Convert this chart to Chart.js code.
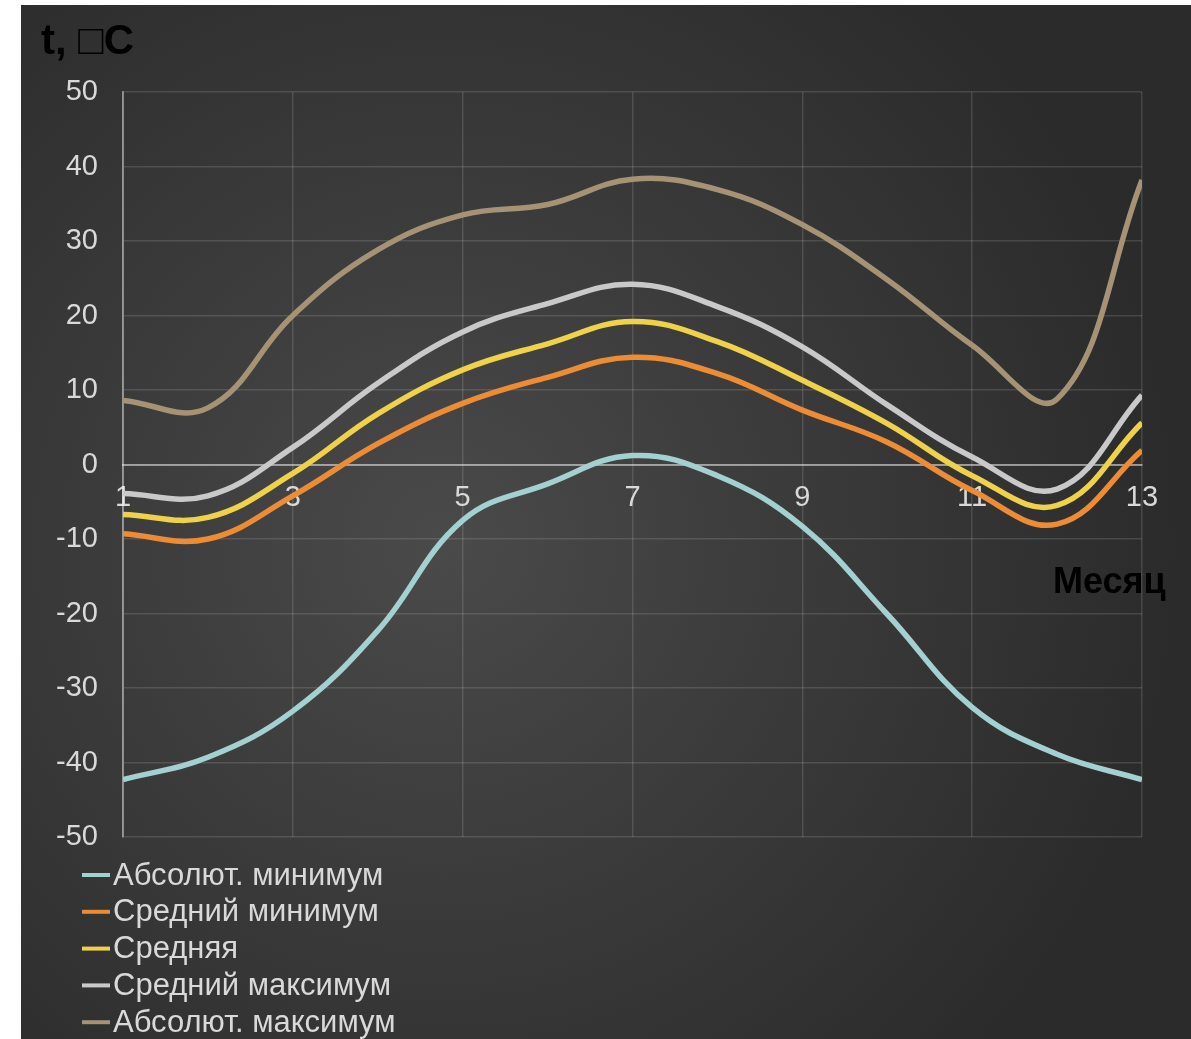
<!DOCTYPE html>
<html>
<head>
<meta charset="utf-8">
<script src="https://cdn.jsdelivr.net/npm/chart.js@4.4.0/dist/chart.umd.min.js"></script>
<style>
html, body { margin: 0; padding: 0; background: #fff; }
#panel {
	position: absolute; left: 21px; top: 5px; width: 1170px; height: 1034px;
	background: radial-gradient(circle at 36% 52%, #4a4a4a 0%, #3c3c3c 35%, #2b2b2b 80%);
}
canvas { display: block; }
</style>
</head>
<body>
<div id="panel"><canvas id="chart" width="1170" height="1034"></canvas></div>
<script>
var months = [1, 2, 3, 4, 5, 6, 7, 8, 9, 10, 11, 12, 13];
var absMin  = [-42.3, -39.3, -33.1, -22.3, -7.5, -2.6, 1.2, -1.5, -8.3, -20.1, -32.6, -38.9, -42.3];
var meanMin = [-9.3, -10.0, -4.2, 2.8, 8.2, 11.7, 14.4, 12.2, 7.3, 3.0, -3.5, -8.0, 1.9];
var mean    = [-6.7, -7.1, -1.2, 6.8, 12.7, 16.2, 19.2, 16.5, 11.3, 5.5, -1.5, -5.5, 5.6];
var meanMax = [-3.9, -4.2, 2.3, 10.9, 17.8, 21.6, 24.2, 21.2, 15.8, 8.0, 1.0, -3.3, 9.3];
var absMax  = [8.6, 7.6, 20.0, 28.8, 33.5, 34.9, 38.3, 36.9, 32.2, 24.8, 16.0, 8.8, 38.2];

var seriesNames = ['Абсолют. минимум', 'Средний минимум', 'Средняя', 'Средний максимум', 'Абсолют. максимум'];
var seriesColors = ['#a3d0d0', '#ec8c34', '#f0d14a', '#c9c9c9', '#a69274'];
var seriesValues = [absMin, meanMin, mean, meanMax, absMax];

var tickColor = '#d9d9d9';
var font = 'Liberation Sans, Arial, sans-serif';

function points(vals) {
	return months.map((m, i) => ({ x: m, y: vals[i] }));
}

var datasets = seriesValues.map((vals, i) => ({
	label: seriesNames[i],
	data: points(vals),
	borderColor: seriesColors[i],
	backgroundColor: seriesColors[i],
	borderWidth: 5.5,
	pointRadius: 0,
	tension: 0.4,
	fill: false
}));

// titles + vertical legend drawn on the canvas
var extras = {
	id: 'extras',
	afterDraw(chart) {
		const ctx = chart.ctx;
		const a = chart.chartArea;
		ctx.save();
		ctx.fillStyle = '#000';
		ctx.textBaseline = 'alphabetic';
		ctx.textAlign = 'left';
		ctx.font = 'bold 42px ' + font;
		ctx.fillText('t, \u25A1C', a.left - 82, a.top - 38);
		ctx.font = 'bold 36px ' + font;
		ctx.fillText('Месяц', a.left + 930, a.top + 501);

		ctx.font = '31px ' + font;
		ctx.textBaseline = 'middle';
		chart.data.datasets.forEach((ds, i) => {
			const y = a.bottom + 38 + i * 36.8;
			ctx.fillStyle = ds.borderColor;
			ctx.fillRect(a.left - 41, y - 2, 28, 4);
			ctx.fillStyle = tickColor;
			ctx.fillText(ds.label, a.left - 10, y + 1);
		});
		ctx.restore();
	}
};

new Chart(document.getElementById('chart'), {
	type: 'line',
	data: { datasets: datasets },
	plugins: [extras],
	options: {
		responsive: false,
		animation: false,
		layout: { padding: { left: 0, top: 87, right: 49, bottom: 202 } },
		plugins: { legend: { display: false }, title: { display: false }, tooltip: { enabled: false } },
		scales: {
			x: {
				type: 'linear',
				position: { y: 0 },
				min: 1, max: 13,
				afterFit: (s) => { s.height = 0; },
				ticks: { stepSize: 2, color: tickColor, font: { family: font, size: 29 }, padding: 16, maxRotation: 0 },
				grid: { color: 'rgba(255,255,255,0.13)', lineWidth: 1.5, drawTicks: false },
				border: { color: 'rgba(255,255,255,0.45)', width: 2 }
			},
			y: {
				min: -50, max: 50,
				afterFit: (s) => { s.width = 102; },
				ticks: { stepSize: 10, color: tickColor, font: { family: font, size: 29 }, padding: 25 },
				grid: { color: 'rgba(255,255,255,0.13)', lineWidth: 1.5, drawTicks: false },
				border: { color: 'rgba(255,255,255,0.4)', width: 2 }
			}
		}
	}
});
</script>
</body>
</html>
